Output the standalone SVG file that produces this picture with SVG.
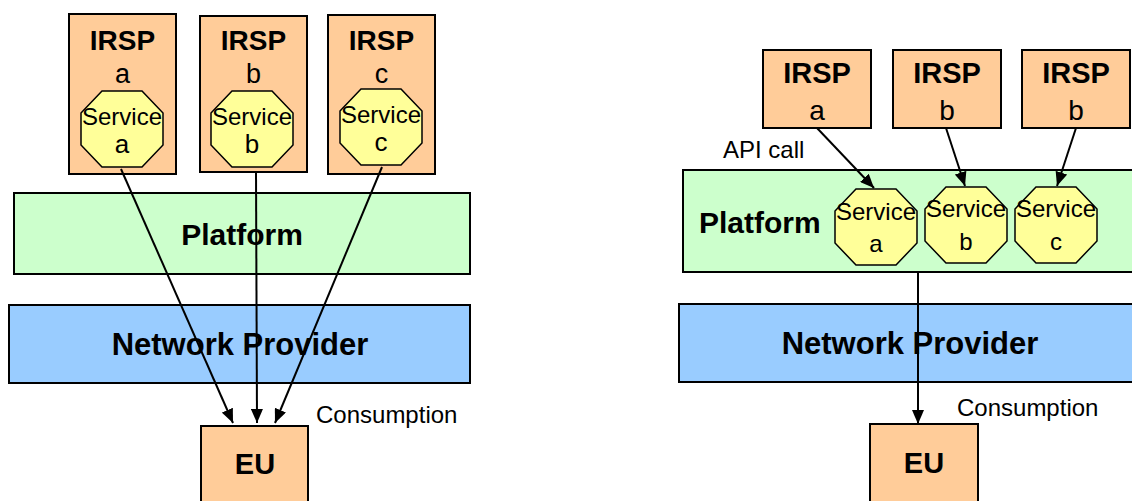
<svg xmlns="http://www.w3.org/2000/svg" width="1132" height="501" viewBox="0 0 1132 501">
<style>
.box{stroke:#000;stroke-width:2}
.or{fill:#FFCC99}
.gr{fill:#CCFFCC}
.bl{fill:#99CCFF}
.oc{fill:#FFFF99;stroke:#000;stroke-width:1.5}
.b{font-family:"Liberation Sans",Arial,sans-serif;font-weight:bold;font-size:29px;fill:#000}
.r{font-family:"Liberation Sans",Arial,sans-serif;font-size:24px;fill:#000}
.s{font-size:24px}
.m{text-anchor:middle}
.ln{stroke:#000;stroke-width:2;fill:none}
</style>
<defs>
<marker id="ah" markerWidth="14" markerHeight="12" refX="14" refY="6" orient="auto" markerUnits="userSpaceOnUse">
<path d="M0,0 L14,6 L0,12 Z" fill="#000"/>
</marker>
<polygon id="oct" points="21,0 61,0 82,22 82,54 61,76 21,76 0,54 0,22"/>
</defs>
<rect width="1132" height="501" fill="#fff"/>

<!-- Left diagram -->
<g id="L-platform"><rect class="box gr" x="14" y="193" width="456" height="81"/><text class="b m" x="242" y="245" style="font-size:30px">Platform</text></g>
<g id="L-network"><rect class="box bl" x="9" y="305" width="461" height="78"/><text class="b m" x="240" y="355" style="font-size:31px">Network Provider</text></g>
<g id="L-irsp-a"><rect class="box or" x="69" y="14" width="107" height="160"/><text class="b m" x="122.5" y="50" style="font-size:28px">IRSP</text><text class="r m" x="122.5" y="83" style="font-size:27px">a</text></g>
<g id="L-irsp-b"><rect class="box or" x="200" y="16" width="107" height="156"/><text class="b m" x="253.5" y="50" style="font-size:28px">IRSP</text><text class="r m" x="253.5" y="83" style="font-size:27px">b</text></g>
<g id="L-irsp-c"><rect class="box or" x="328" y="15" width="107" height="159"/><text class="b m" x="381.5" y="50" style="font-size:28px">IRSP</text><text class="r m" x="381.5" y="83" style="font-size:27px">c</text></g>
<g id="L-service-a"><use href="#oct" class="oc" x="81" y="91"/><text class="r s m" x="122" y="125">Service</text><text class="r m" x="122" y="153" style="font-size:26px">a</text></g>
<g id="L-service-b"><use href="#oct" class="oc" x="211" y="91"/><text class="r s m" x="252" y="125">Service</text><text class="r m" x="252" y="153" style="font-size:26px">b</text></g>
<g id="L-service-c"><use href="#oct" class="oc" x="340" y="89"/><text class="r s m" x="381" y="123">Service</text><text class="r m" x="381" y="151" style="font-size:26px">c</text></g>
<g id="L-eu"><rect class="box or" x="201" y="426" width="107" height="80"/><text class="b m" x="255" y="474">EU</text></g>
<text class="r" x="316" y="423">Consumption</text>

<!-- Right diagram -->
<g id="R-platform"><rect class="box gr" x="683" y="170" width="460" height="102"/><text class="b" x="699" y="233" style="font-size:30px">Platform</text></g>
<g id="R-network"><rect class="box bl" x="679" y="304" width="462" height="78"/><text class="b m" x="910" y="354" style="font-size:31px">Network Provider</text></g>
<g id="R-irsp-a"><rect class="box or" x="763" y="50" width="108" height="78"/><text class="b m" x="817" y="83" style="font-size:29px">IRSP</text><text class="r m" x="817" y="120" style="font-size:28px">a</text></g>
<g id="R-irsp-b"><rect class="box or" x="893" y="50" width="108" height="78"/><text class="b m" x="947" y="83" style="font-size:29px">IRSP</text><text class="r m" x="947" y="120" style="font-size:28px">b</text></g>
<g id="R-irsp-b2"><rect class="box or" x="1022" y="50" width="108" height="78"/><text class="b m" x="1076" y="83" style="font-size:29px">IRSP</text><text class="r m" x="1076" y="120" style="font-size:28px">b</text></g>
<g id="R-service-a"><use href="#oct" class="oc" x="835" y="189"/><text class="r s m" x="876" y="220">Service</text><text class="r m" x="876" y="252">a</text></g>
<g id="R-service-b"><use href="#oct" class="oc" x="925" y="187"/><text class="r s m" x="966" y="217">Service</text><text class="r m" x="966" y="250">b</text></g>
<g id="R-service-c"><use href="#oct" class="oc" x="1015" y="187"/><text class="r s m" x="1056" y="217">Service</text><text class="r m" x="1056" y="250">c</text></g>
<g id="R-eu"><rect class="box or" x="870" y="424" width="108" height="82"/><text class="b m" x="924" y="473">EU</text></g>
<text class="r" x="723" y="158">API call</text>
<text class="r" x="957" y="416">Consumption</text>

<g id="connectors">
<line class="ln" x1="121" y1="169" x2="233" y2="423" marker-end="url(#ah)"/>
<line class="ln" x1="256" y1="172" x2="257" y2="423" marker-end="url(#ah)"/>
<line class="ln" x1="382" y1="167" x2="275" y2="423" marker-end="url(#ah)"/>
<line class="ln" x1="817" y1="128" x2="874" y2="188" marker-end="url(#ah)"/>
<line class="ln" x1="946" y1="128" x2="965" y2="186" marker-end="url(#ah)"/>
<line class="ln" x1="1076" y1="128" x2="1057" y2="186" marker-end="url(#ah)"/>
<line class="ln" x1="918" y1="272" x2="918" y2="424" marker-end="url(#ah)"/>
</g>
</svg>
